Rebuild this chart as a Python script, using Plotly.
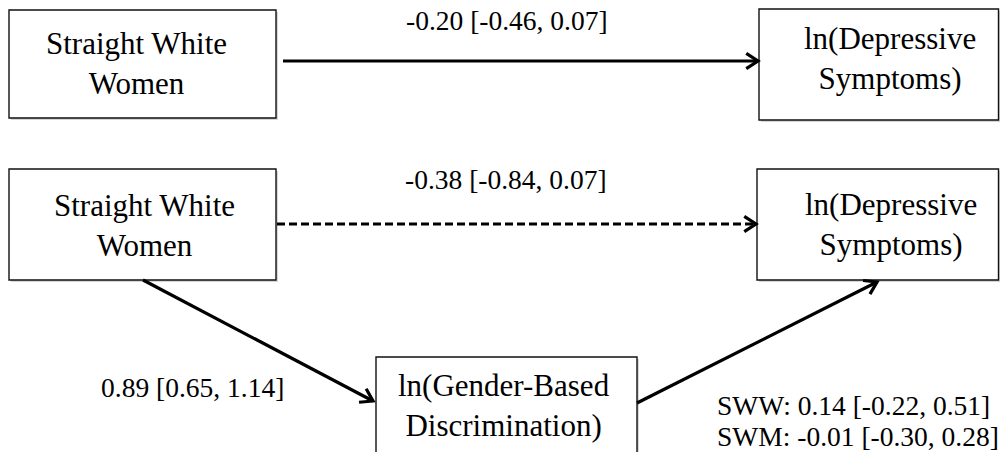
import math
import plotly.graph_objects as go

# Variables in the mediation model
node_labels = [
    "Straight White<br>Women",
    "ln(Depressive<br>Symptoms)",
    "Straight White<br>Women",
    "ln(Depressive<br>Symptoms)",
    "ln(Gender-Based<br>Discrimination)",
]

# Path coefficients with 95% confidence intervals
path_prefix = ["", "", "", "SWW: ", "SWM: "]
path_estimate = [-0.20, -0.38, 0.89, 0.14, -0.01]
path_ci_low = [-0.46, -0.84, 0.65, -0.22, -0.30]
path_ci_high = [0.07, 0.07, 1.14, 0.51, 0.28]

# ---- diagram geometry (pixel units, y grows downward) ----
W, H = 1000, 452
box_rect = [  # x0, x1, y0, y1
    (9, 276, 10, 118),
    (759, 998.5, 9, 120),
    (9, 276, 169, 280),
    (757, 998.5, 169, 280),
    (376, 637, 357, 470),
]
box_text_pos = [(136, 63), (890, 58), (144, 225), (891, 224), (504, 405)]

# arrows: start, tip, dashed?
arrows = [
    ((283, 61), (758, 61), False),
    ((277, 224), (756, 224), True),
    ((143, 280), (373, 401), False),
    ((637, 403), (877, 282), False),
]

label_pos = [(507, 20, "center"), (506, 179, "center"), (192, 387, "center"),
             (716, 405, "left"), (716, 436, "left")]

FONT = "Liberation Serif, Times New Roman, serif"

fig = go.Figure()

shapes = []
for (x0, x1, y0, y1) in box_rect:
    # soft drop shadow
    shapes.append(dict(type="rect", x0=x0 + 2, x1=x1 + 2, y0=y0 + 2, y1=y1 + 2,
                       line=dict(width=0), fillcolor="rgba(0,0,0,0.16)", layer="below"))
    shapes.append(dict(type="rect", x0=x0, x1=x1, y0=y0, y1=y1,
                       line=dict(color="#111111", width=1.4), fillcolor="white", layer="below"))

for (sx, sy), (tx, ty), dashed in arrows:
    fig.add_trace(go.Scatter(
        x=[sx, tx], y=[sy, ty], mode="lines",
        line=dict(color="black", width=3.2, dash="8px,4px" if dashed else "solid"),
        hoverinfo="skip", showlegend=False))
    ang = math.atan2(ty - sy, tx - sx)
    arm, spread = 14, math.radians(33)
    ax1 = tx - arm * math.cos(ang - spread)
    ay1 = ty - arm * math.sin(ang - spread)
    ax2 = tx - arm * math.cos(ang + spread)
    ay2 = ty - arm * math.sin(ang + spread)
    fig.add_trace(go.Scatter(
        x=[ax1, tx, ax2], y=[ay1, ty, ay2], mode="lines",
        line=dict(color="black", width=3.2),
        hoverinfo="skip", showlegend=False))

annotations = []
for label, (x, y) in zip(node_labels, box_text_pos):
    annotations.append(dict(x=x, y=y, text=label, showarrow=False,
                            xanchor="center", yanchor="middle",
                            font=dict(family=FONT, size=31, color="black")))

for pre, est, lo, hi, (x, y, anchor) in zip(path_prefix, path_estimate, path_ci_low,
                                            path_ci_high, label_pos):
    txt = f"{pre}{est:.2f} [{lo:.2f}, {hi:.2f}]"
    annotations.append(dict(x=x, y=y, text=txt, showarrow=False, borderpad=0,
                            xanchor=anchor, yanchor="middle",
                            font=dict(family=FONT, size=27.5, color="black")))

fig.update_layout(
    width=W, height=H,
    margin=dict(l=0, r=0, t=0, b=0),
    paper_bgcolor="white", plot_bgcolor="white",
    xaxis=dict(range=[0, W], visible=False, fixedrange=True),
    yaxis=dict(range=[H, 0], visible=False, fixedrange=True),
    shapes=shapes, annotations=annotations,
)

fig.write_html("out.html")
